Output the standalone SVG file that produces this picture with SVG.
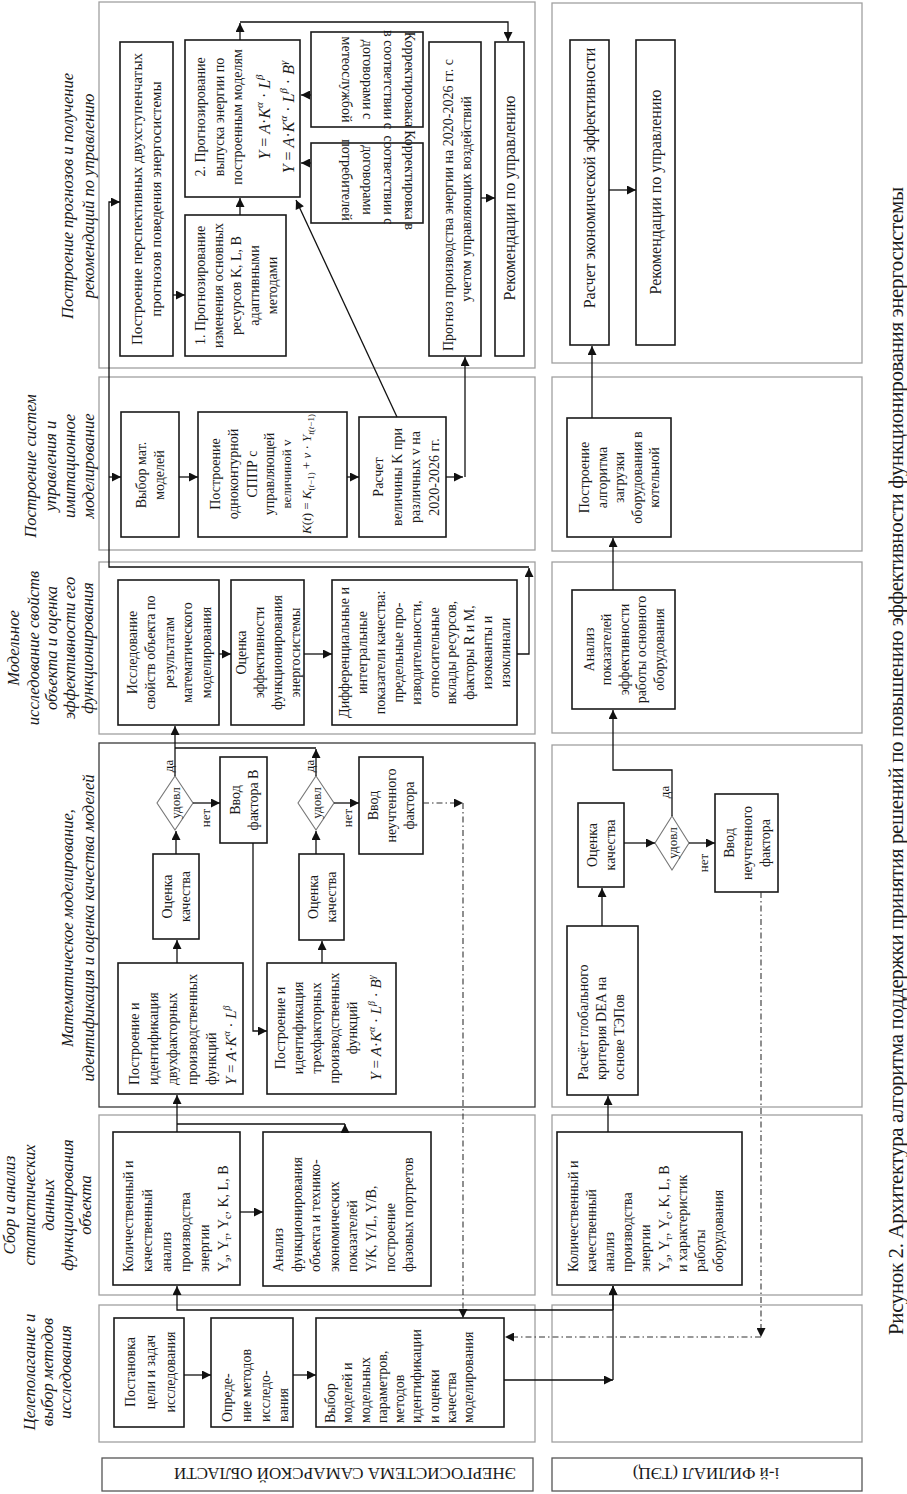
<svg xmlns="http://www.w3.org/2000/svg" width="907" height="1494" viewBox="0 0 907 1494">
<defs>
<marker id="ah" viewBox="0 0 10 10" refX="10" refY="5" markerWidth="11" markerHeight="9" markerUnits="userSpaceOnUse" orient="auto"><path d="M0,0L10,5L0,10z" fill="#111"/></marker>
</defs>
<style>
text{font-family:"Liberation Serif","Times New Roman",serif;fill:#1a1a1a}
.t{font-size:14px}
.m{text-anchor:middle}
.h{font-size:16.5px;font-style:italic;text-anchor:middle}
.i{font-style:italic}
.bx{fill:#fff;stroke:#1a1a1a;stroke-width:1.6}
.pn{fill:none;stroke:#a0a0a0;stroke-width:1.3}
.pd{fill:none;stroke:#3a3a3a;stroke-width:1.3}
.dm{fill:#fff;stroke:#777;stroke-width:1.1}
.ln{fill:none;stroke:#111;stroke-width:1.3}
.ar{marker-end:url(#ah)}
.ds{fill:none;stroke:#333;stroke-width:1.1;stroke-dasharray:6 3 1.5 3}
.lb{fill:none;stroke:#555;stroke-width:1.3}
</style>
<rect width="907" height="1494" fill="#fff"/>

<g id="panels">
<rect class="pn" x="99" y="1305" width="436" height="137"/>
<rect class="pn" x="99" y="1115" width="436" height="180"/>
<rect class="pd" x="99" y="743" width="436" height="364"/>
<rect class="pn" x="99" y="562" width="436" height="172"/>
<rect class="pn" x="99" y="377" width="436" height="173"/>
<rect class="pn" x="99" y="2" width="436" height="366"/>
<rect class="pn" x="552" y="1305" width="310" height="137"/>
<rect class="pn" x="552" y="1115" width="310" height="180"/>
<rect class="pn" x="552" y="745" width="310" height="362"/>
<rect class="pn" x="552" y="562" width="310" height="171"/>
<rect class="pn" x="552" y="377" width="310" height="174"/>
<rect class="pn" x="552" y="3" width="310" height="360"/>
</g>

<g id="region-labels">
<rect class="lb" x="102" y="1458" width="431" height="33"/>
<text class="m" font-size="17" transform="translate(345,1468) rotate(180)">ЭНЕРГОСИСТЕМА САМАРСКОЙ ОБЛАСТИ</text>
<rect class="lb" x="552" y="1458" width="310" height="33"/>
<text class="m" font-size="17" transform="translate(706,1468) rotate(180)">i-й ФИЛИАЛ (ТЭЦ)</text>
</g>

<g id="headers">
<text class="h" transform="translate(35,1372) rotate(-90)"><tspan x="0" y="0">Целеполагание и</tspan><tspan x="0" y="18">выбор методов</tspan><tspan x="0" y="36">исследования</tspan></text>
<text class="h" transform="translate(15,1205) rotate(-90)"><tspan x="0" y="0">Сбор и анализ</tspan><tspan x="0" y="20">статистических</tspan><tspan x="0" y="39">данных</tspan><tspan x="0" y="58">функционирования</tspan><tspan x="0" y="76">объекта</tspan></text>
<text class="h" transform="translate(73,928) rotate(-90)"><tspan x="0" y="0">Математическое моделирование,</tspan><tspan x="0" y="21">идентификация и оценка качества моделей</tspan></text>
<text class="h" transform="translate(19,648) rotate(-90)"><tspan x="0" y="0">Модельное</tspan><tspan x="0" y="20">исследование свойств</tspan><tspan x="0" y="38">объекта и оценка</tspan><tspan x="0" y="56">эффективности его</tspan><tspan x="0" y="74">функционирования</tspan></text>
<text class="h" transform="translate(36,466) rotate(-90)"><tspan x="0" y="0">Построение систем</tspan><tspan x="0" y="20">управления и</tspan><tspan x="0" y="39">имитационное</tspan><tspan x="0" y="58">моделирование</tspan></text>
<text class="h" transform="translate(73,196) rotate(-90)"><tspan x="0" y="0">Построение прогнозов и получение</tspan><tspan x="0" y="21">рекомендаций по управлению</tspan></text>
</g>

<g id="A1"><rect class="bx" x="114" y="1318" width="70" height="109"/>
<text class="t m" transform="translate(134.5,1372) rotate(-90)"><tspan x="0" y="0">Постановка</tspan><tspan x="0" y="20">цели и задач</tspan><tspan x="0" y="40">исследования</tspan></text></g>
<g id="A2"><rect class="bx" x="211" y="1318" width="82" height="109"/>
<text class="t" transform="translate(232,1422) rotate(-90)"><tspan x="0" y="0">Опреде-</tspan><tspan x="0" y="19">ние методов</tspan><tspan x="0" y="38">исследо-</tspan><tspan x="0" y="56">вания</tspan></text></g>
<g id="A3"><rect class="bx" x="316" y="1318" width="188" height="109"/>
<text class="t" transform="translate(335,1423) rotate(-90)"><tspan x="0" y="0">Выбор</tspan><tspan x="0" y="17.25">моделей и</tspan><tspan x="0" y="34.5">модельных</tspan><tspan x="0" y="51.75">параметров,</tspan><tspan x="0" y="69">методов</tspan><tspan x="0" y="86.25">идентификации</tspan><tspan x="0" y="103.5">и оценки</tspan><tspan x="0" y="120.75">качества</tspan><tspan x="0" y="138">моделирования</tspan></text></g>

<g id="B1"><rect class="bx" x="113" y="1132" width="127" height="153"/>
<text class="t" transform="translate(133,1272) rotate(-90)"><tspan x="0" y="0">Количественный и</tspan><tspan x="0" y="19">качественный</tspan><tspan x="0" y="38">анализ</tspan><tspan x="0" y="57">производства</tspan><tspan x="0" y="76">энергии</tspan><tspan x="0" y="95">Y</tspan><tspan dy="3" font-size="10">э</tspan><tspan dy="-3">, Y</tspan><tspan dy="3" font-size="10">т</tspan><tspan dy="-3">, Y</tspan><tspan dy="3" font-size="10">с</tspan><tspan dy="-3">, K, L, B</tspan></text></g>
<g id="B2"><rect class="bx" x="263" y="1132" width="168" height="154"/>
<text class="t" transform="translate(283,1272) rotate(-90)"><tspan x="0" y="0">Анализ</tspan><tspan x="0" y="18.6">функционирования</tspan><tspan x="0" y="37.2">объекта и технико-</tspan><tspan x="0" y="55.8">экономических</tspan><tspan x="0" y="74.4">показателей</tspan><tspan x="0" y="93">Y/K, Y/L, Y/B,</tspan><tspan x="0" y="111.6">построение</tspan><tspan x="0" y="130.2">фазовых портретов</tspan></text></g>

<g id="C1"><rect class="bx" x="118" y="963" width="125" height="131"/>
<text class="t" transform="translate(139,1085) rotate(-90)"><tspan x="0" y="0">Построение и</tspan><tspan x="0" y="19">идентификация</tspan><tspan x="0" y="38">двухфакторных</tspan><tspan x="0" y="58">производственных</tspan><tspan x="0" y="77">функций</tspan><tspan x="0" y="97" class="i" font-size="15">Y</tspan><tspan font-size="15"> = </tspan><tspan class="i" font-size="15">A</tspan><tspan font-size="15">·</tspan><tspan class="i" font-size="15">K</tspan><tspan class="i" dy="-6" font-size="10">α</tspan><tspan dy="6" font-size="15"> · </tspan><tspan class="i" font-size="15">L</tspan><tspan class="i" dy="-6" font-size="10">β</tspan></text></g>
<g id="C2"><rect class="bx" x="267" y="963" width="129" height="131"/>
<text class="t m" transform="translate(285,1028) rotate(-90)"><tspan x="0" y="0">Построение и</tspan><tspan x="0" y="18">идентификация</tspan><tspan x="0" y="36">трехфакторных</tspan><tspan x="0" y="54">производственных</tspan><tspan x="0" y="72">функций</tspan><tspan x="0" y="96" class="i" font-size="15">Y</tspan><tspan font-size="15"> = </tspan><tspan class="i" font-size="15">A</tspan><tspan font-size="15">·</tspan><tspan class="i" font-size="15">K</tspan><tspan class="i" dy="-6" font-size="10">α</tspan><tspan dy="6" font-size="15"> · </tspan><tspan class="i" font-size="15">L</tspan><tspan class="i" dy="-6" font-size="10">β</tspan><tspan dy="6" font-size="15"> · </tspan><tspan class="i" font-size="15">B</tspan><tspan class="i" dy="-6" font-size="10">γ</tspan></text></g>
<g id="Q1"><rect class="bx" x="153" y="854" width="46" height="85"/>
<text class="t m" transform="translate(172,896.5) rotate(-90)"><tspan x="0" y="0">Оценка</tspan><tspan x="0" y="18">качества</tspan></text></g>
<g id="Q2"><rect class="bx" x="299" y="854" width="45" height="86"/>
<text class="t m" transform="translate(318,897) rotate(-90)"><tspan x="0" y="0">Оценка</tspan><tspan x="0" y="18">качества</tspan></text></g>
<g id="D1"><polygon class="dm" points="175,776 193,803 175,830 157,803"/>
<text class="m" font-size="13" transform="translate(179.5,803) rotate(-90)">удовл</text></g>
<g id="D2"><polygon class="dm" points="316,776 334,803 316,830 298,803"/>
<text class="m" font-size="13" transform="translate(320.5,803) rotate(-90)">удовл</text></g>
<g id="V1"><rect class="bx" x="220" y="757" width="47" height="86"/>
<text class="t m" transform="translate(239.5,800) rotate(-90)"><tspan x="0" y="0">Ввод</tspan><tspan x="0" y="18">фактора В</tspan></text></g>
<g id="V2"><rect class="bx" x="359" y="757" width="64" height="97"/>
<text class="t m" transform="translate(378,805.5) rotate(-90)"><tspan x="0" y="0">Ввод</tspan><tspan x="0" y="18">неучтенного</tspan><tspan x="0" y="36">фактора</tspan></text></g>

<g id="E1"><rect class="bx" x="118" y="580" width="101" height="145"/>
<text class="t m" transform="translate(136.5,652.5) rotate(-90)"><tspan x="0" y="0">Исследование</tspan><tspan x="0" y="18.5">свойств объекта по</tspan><tspan x="0" y="37">результатам</tspan><tspan x="0" y="55.5">математического</tspan><tspan x="0" y="74">моделирования</tspan></text></g>
<g id="E2"><rect class="bx" x="231" y="580" width="73" height="145"/>
<text class="t m" transform="translate(245.5,652.5) rotate(-90)"><tspan x="0" y="0">Оценка</tspan><tspan x="0" y="18">эффективности</tspan><tspan x="0" y="36">функционирования</tspan><tspan x="0" y="54">энергосистемы</tspan></text></g>
<g id="E3"><rect class="bx" x="332" y="580" width="185" height="145"/>
<text class="t m" transform="translate(349,652.5) rotate(-90)"><tspan x="0" y="0">Дифференциальные и</tspan><tspan x="0" y="17.9">интегральные</tspan><tspan x="0" y="35.8">показатели качества:</tspan><tspan x="0" y="53.7">предельные про-</tspan><tspan x="0" y="71.6">изводительности,</tspan><tspan x="0" y="89.5">относительные</tspan><tspan x="0" y="107.4">вклады ресурсов,</tspan><tspan x="0" y="125.3">факторы R и M,</tspan><tspan x="0" y="143.2">изокванты и</tspan><tspan x="0" y="161.1">изоклинали</tspan></text></g>

<g id="F1"><rect class="bx" x="121" y="412" width="58" height="125"/>
<text class="t m" transform="translate(146,475) rotate(-90)"><tspan x="0" y="0">Выбор мат.</tspan><tspan x="0" y="18">моделей</tspan></text></g>
<g id="F2"><rect class="bx" x="198" y="412" width="149" height="125"/>
<text class="t m" transform="translate(220,474) rotate(-90)"><tspan x="0" y="0">Построение</tspan><tspan x="0" y="18">одноконтурной</tspan><tspan x="0" y="37">СППР с</tspan><tspan x="0" y="54">управляющей</tspan><tspan x="0" y="71" font-size="13">величиной v</tspan><tspan x="0" y="91" class="i" font-size="13">K</tspan><tspan font-size="13">(</tspan><tspan class="i" font-size="13">t</tspan><tspan font-size="13">) = </tspan><tspan class="i" font-size="13">K</tspan><tspan dy="3" font-size="9">(</tspan><tspan class="i" font-size="9">t</tspan><tspan font-size="9">−1)</tspan><tspan dy="-3" font-size="13"> + </tspan><tspan class="i" font-size="13">v</tspan><tspan font-size="13"> · </tspan><tspan class="i" font-size="13">Y</tspan><tspan dy="3" class="i" font-size="9">t</tspan><tspan font-size="9">(</tspan><tspan class="i" font-size="9">t</tspan><tspan font-size="9">−1)</tspan></text></g>
<g id="F3"><rect class="bx" x="359" y="417" width="87" height="120"/>
<text class="t m" transform="translate(383,477) rotate(-90)"><tspan x="0" y="0">Расчет</tspan><tspan x="0" y="18.5">величины K при</tspan><tspan x="0" y="37">различных v на</tspan><tspan x="0" y="55.5">2020-2026 гг.</tspan></text></g>

<g id="G1"><rect class="bx" x="120" y="42" width="53" height="314"/>
<text class="m" font-size="15" transform="translate(142,199) rotate(-90)"><tspan x="0" y="0">Построение перспективных двухступенчатых</tspan><tspan x="0" y="19">прогнозов поведения энергосистемы</tspan></text></g>
<g id="G2"><rect class="bx" x="185" y="215" width="101" height="141"/>
<text class="t m" transform="translate(204.5,285.5) rotate(-90)"><tspan x="0" y="0">1. Прогнозирование</tspan><tspan x="0" y="18">изменения основных</tspan><tspan x="0" y="36">ресурсов K, L, B</tspan><tspan x="0" y="54">адаптивными</tspan><tspan x="0" y="72">методами</tspan></text></g>
<g id="G3"><rect class="bx" x="185" y="40" width="115" height="157"/>
<text class="t m" transform="translate(205,117) rotate(-90)"><tspan x="0" y="0">2. Прогнозирование</tspan><tspan x="0" y="19">выпуска энергии по</tspan><tspan x="0" y="37">построенным моделям</tspan><tspan x="0" y="65" class="i" font-size="16">Y</tspan><tspan font-size="16"> = </tspan><tspan class="i" font-size="16">A</tspan><tspan font-size="16">·</tspan><tspan class="i" font-size="16">K</tspan><tspan class="i" dy="-7" font-size="11">α</tspan><tspan dy="7" font-size="16"> · </tspan><tspan class="i" font-size="16">L</tspan><tspan class="i" dy="-7" font-size="11">β</tspan><tspan x="0" y="89" class="i" font-size="16">Y</tspan><tspan font-size="16"> = </tspan><tspan class="i" font-size="16">A</tspan><tspan font-size="16">·</tspan><tspan class="i" font-size="16">K</tspan><tspan class="i" dy="-7" font-size="11">α</tspan><tspan dy="7" font-size="16"> · </tspan><tspan class="i" font-size="16">L</tspan><tspan class="i" dy="-7" font-size="11">β</tspan><tspan dy="7" font-size="16"> · </tspan><tspan class="i" font-size="16">B</tspan><tspan class="i" dy="-7" font-size="11">γ</tspan></text></g>
<g id="H1"><rect class="bx" x="311" y="32" width="112" height="95"/>
<text class="t m" transform="translate(405,79.5) rotate(90)"><tspan x="0" y="0">Корректировака</tspan><tspan x="0" y="21">в соответствии с</tspan><tspan x="0" y="42">договорами с</tspan><tspan x="0" y="63">метеослужбой</tspan></text></g>
<g id="H2"><rect class="bx" x="311" y="143" width="112" height="80"/>
<text class="t m" transform="translate(405,180) rotate(90)"><tspan x="0" y="0">Корректировка в</tspan><tspan x="0" y="21">соответствии с</tspan><tspan x="0" y="42">договорами</tspan><tspan x="0" y="63">потребителей</tspan></text></g>
<g id="G4"><rect class="bx" x="429" y="42" width="52" height="314"/>
<text class="t" transform="translate(453,351) rotate(-90)">Прогноз производства энергии на 2020-2026 гг. с</text>
<text class="t m" transform="translate(471,199) rotate(-90)">учетом управляющих воздействий</text></g>
<g id="G5"><rect class="bx" x="495" y="42" width="29" height="314"/>
<text class="m" font-size="16" transform="translate(515,198) rotate(-90)">Рекомендации по управлению</text></g>

<g id="K"><rect class="bx" x="557" y="1132" width="185" height="153"/>
<text class="t" transform="translate(578,1272) rotate(-90)"><tspan x="0" y="0">Количественный и</tspan><tspan x="0" y="18.1">качественный</tspan><tspan x="0" y="36.2">анализ</tspan><tspan x="0" y="54.3">производства</tspan><tspan x="0" y="72.4">энергии</tspan><tspan x="0" y="90.5">Y</tspan><tspan dy="3" font-size="10">э</tspan><tspan dy="-3">, Y</tspan><tspan dy="3" font-size="10">т</tspan><tspan dy="-3">, Y</tspan><tspan dy="3" font-size="10">с</tspan><tspan dy="-3">, K, L, B</tspan><tspan x="0" y="108.6">и характеристик</tspan><tspan x="0" y="126.7">работы</tspan><tspan x="0" y="144.8">оборудования</tspan></text></g>
<g id="DEA"><rect class="bx" x="567" y="926" width="71" height="169"/>
<text class="t" transform="translate(588,1080) rotate(-90)"><tspan x="0" y="0">Расчёт глобального</tspan><tspan x="0" y="18">критерия DEA на</tspan><tspan x="0" y="36">основе ТЭПов</tspan></text></g>
<g id="QR"><rect class="bx" x="578" y="803" width="46" height="84"/>
<text class="t m" transform="translate(597,845) rotate(-90)"><tspan x="0" y="0">Оценка</tspan><tspan x="0" y="18">качества</tspan></text></g>
<g id="DR"><polygon class="dm" points="672,816 689,843 672,870 655,843"/>
<text class="m" font-size="13" transform="translate(676.5,843) rotate(-90)">удовл</text></g>
<g id="VR"><rect class="bx" x="715" y="794" width="63" height="98"/>
<text class="t m" transform="translate(733.5,843) rotate(-90)"><tspan x="0" y="0">Ввод</tspan><tspan x="0" y="18">неучтенного</tspan><tspan x="0" y="36">фактора</tspan></text></g>
<g id="AN"><rect class="bx" x="572" y="590" width="103" height="119"/>
<text class="t m" transform="translate(593.5,649.5) rotate(-90)"><tspan x="0" y="0">Анализ</tspan><tspan x="0" y="17.5">показателей</tspan><tspan x="0" y="35">эффективности</tspan><tspan x="0" y="52.5">работы основного</tspan><tspan x="0" y="70">оборудования</tspan></text></g>
<g id="PA"><rect class="bx" x="567" y="418" width="104" height="119"/>
<text class="t m" transform="translate(589,477.5) rotate(-90)"><tspan x="0" y="0">Построение</tspan><tspan x="0" y="17.5">алгоритма</tspan><tspan x="0" y="35">загрузки</tspan><tspan x="0" y="52.5">оборудования в</tspan><tspan x="0" y="70">котельной</tspan></text></g>
<g id="RE"><rect class="bx" x="570" y="40" width="39" height="305"/>
<text class="m" font-size="16" transform="translate(595,178) rotate(-90)">Расчет экономической эффективности</text></g>
<g id="RC"><rect class="bx" x="636" y="40" width="39" height="305"/>
<text class="m" font-size="16" transform="translate(661,192) rotate(-90)">Рекомендации по управлению</text></g>

<g id="connectors">
<path class="ln ar" d="M184,1375H211"/>
<path class="ln ar" d="M293,1375H316"/>
<path class="ln ar" d="M504,1380H613"/>
<path class="ln ar" d="M613,1380V1286"/>
<path class="ln ar" d="M613,1310H177V1286"/>
<path class="ds ar" d="M761,892V1337"/>
<path class="ds ar" d="M761,1337H505"/>
<path class="ds ar" d="M423,803H463"/>
<path class="ds ar" d="M463,803V1318"/>
<path class="ln ar" d="M240,1212H263"/>
<path class="ln ar" d="M177,1132V1095"/>
<path class="ln" d="M177,1124H345"/>
<path class="ln ar" d="M345,1133V1124"/>
<path class="ln ar" d="M177,963V940"/>
<path class="ln ar" d="M176,854V831"/>
<path class="ln ar" d="M175,776V726"/>
<path class="ln ar" d="M193,803H220"/>
<path class="ln ar" d="M253,843V1031H267"/>
<path class="ln ar" d="M322,963V941"/>
<path class="ln ar" d="M316,854V831"/>
<path class="ln ar" d="M316,776V749"/>
<path class="ln" d="M316,748H175"/>
<path class="ln ar" d="M334,803H359"/>
<path class="ln ar" d="M219,654H231"/>
<path class="ln ar" d="M304,654H332"/>
<path class="ln ar" d="M517,654H529V568"/>
<path class="ln ar" d="M529,567H109V202H120"/>
<path class="ln ar" d="M109,477H121"/>
<path class="ln ar" d="M179,477H198"/>
<path class="ln ar" d="M347,477H359"/>
<path class="ln ar" d="M446,477H463"/>
<path class="ln ar" d="M465,477V357"/>
<path class="ln ar" d="M397,417L296,200"/>
<path class="ln ar" d="M173,295H185"/>
<path class="ln ar" d="M240,215V198"/>
<path class="ln ar" d="M240,40V23"/>
<path class="ln ar" d="M240,22H508V41"/>
<path class="ln ar" d="M311,95H301"/>
<path class="ln ar" d="M311,163H301"/>
<path class="ln ar" d="M481,198H495"/>
<path class="ln ar" d="M613,1310V1286"/>
<path class="ln ar" d="M608,1132V1096"/>
<path class="ln ar" d="M602,926V888"/>
<path class="ln ar" d="M624,843H655"/>
<path class="ln ar" d="M689,843H715"/>
<path class="ln ar" d="M672,816V770H613V710"/>
<path class="ln ar" d="M613,590V538"/>
<path class="ln ar" d="M592,418V346"/>
<path class="ln ar" d="M609,190H636"/>
<g font-size="13" class="m">
<text transform="translate(172.5,766) rotate(-90)">да</text>
<text transform="translate(209.5,818) rotate(-90)">нет</text>
<text transform="translate(313.5,766) rotate(-90)">да</text>
<text transform="translate(351.5,818) rotate(-90)">нет</text>
<text transform="translate(668.5,792) rotate(-90)">да</text>
<text transform="translate(707.5,863) rotate(-90)">нет</text>
</g>
</g>

<g id="caption">
<text font-size="21" textLength="1148" transform="translate(903,1335) rotate(-90)">Рисунок 2. Архитектура алгоритма поддержки принятия решений по повышению эффективности функционирования энергосистемы</text>
</g>
</svg>
